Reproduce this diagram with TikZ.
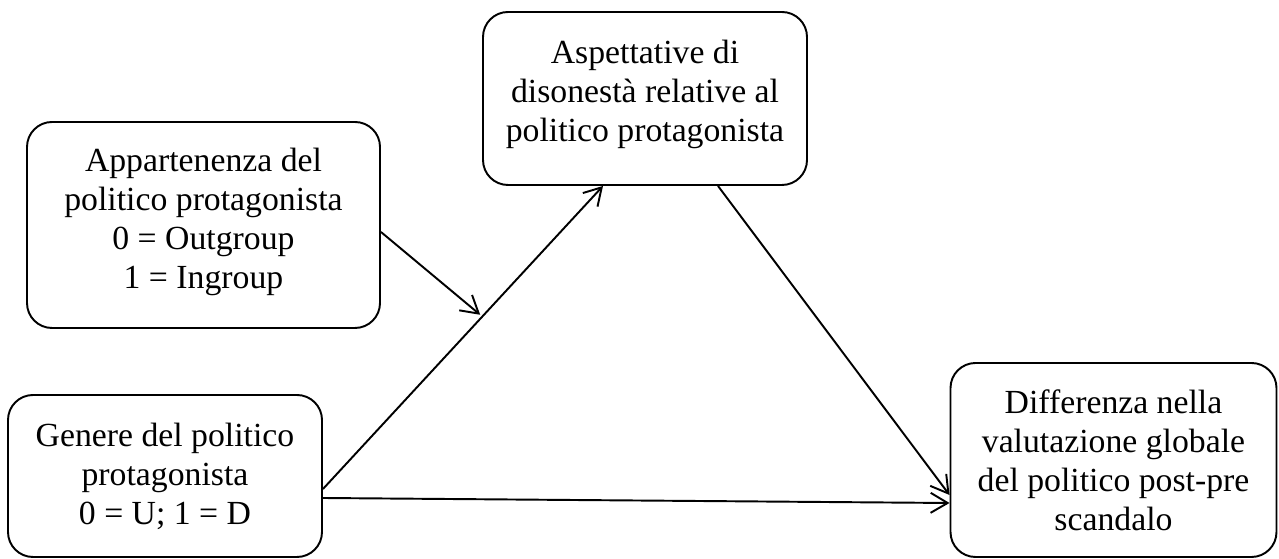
\documentclass[tikz,border=0pt]{standalone}
\usepackage{fontspec}
\setmainfont{Liberation Serif}
\usepackage{tikz}
\usetikzlibrary{arrows.meta,calc}
\tikzset{
  box/.style={draw, line width=1.1pt, rounded corners=0.5cm, align=center, inner sep=0pt, font=\fontsize{19.2}{22.2}\selectfont},
  link/.style={line width=1.1pt, -{Straight Barb[length=0.34cm,width=0.4cm,line width=1.1pt]}},
}
\begin{document}
\begin{tikzpicture}
\useasboundingbox (0,0) rectangle (25.58,11.18);
\node[box, minimum width=7.06cm, minimum height=4.12cm] (app) at (4.07,6.68) {Appartenenza del\\politico protagonista\\0 = Outgroup\\1 = Ingroup\\[-0.5cm]\mbox{}};
\node[box, minimum width=6.48cm, minimum height=3.46cm] (asp) at (12.90,9.21) {Aspettative di\\disonestà relative al\\politico protagonista\\[-0.46cm]\mbox{}};
\node[box, minimum width=6.28cm, minimum height=3.24cm] (gen) at (3.30,1.66) {Genere del politico\\protagonista\\0 = U; 1 = D};
\node[box, minimum width=6.52cm, minimum height=3.88cm] (dif) at (22.27,1.98) {Differenza nella\\valutazione globale\\del politico post-pre\\scandalo};
\draw[link] ([yshift=-0.26cm]gen.east) -- coordinate[pos=0.565] (hit) ([xshift=-0.84cm]asp.south);
\draw[link] ([yshift=-0.44cm]gen.east) -- ([yshift=-0.86cm]dif.west);
\draw[link] ([xshift=1.46cm]asp.south) -- ([yshift=-0.70cm]dif.west);
\draw[link] ([yshift=-0.14cm]app.east) -- ($(hit)+(-0.02,0.06)$);
\end{tikzpicture}
\end{document}
